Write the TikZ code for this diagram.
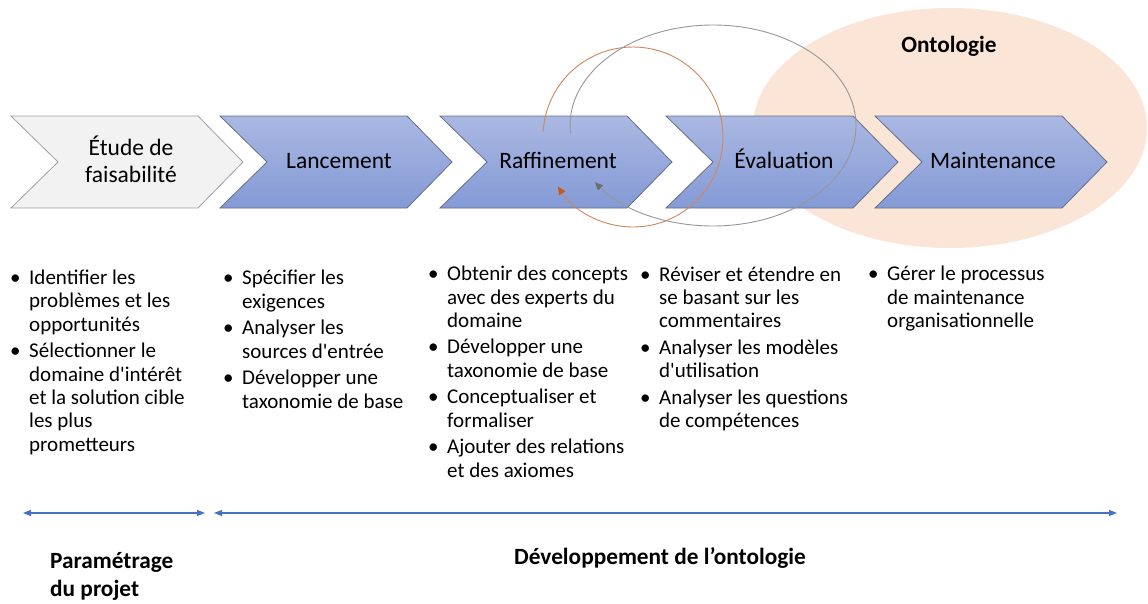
\documentclass[tikz,border=0pt]{standalone}
\usepackage{fontspec}
\setmainfont{Carlito}[Ligatures=TeXOff]
\usetikzlibrary{arrows.meta}

\definecolor{peche}{RGB}{251,229,214}
\definecolor{bleuhaut}{RGB}{170,184,226}
\definecolor{bleubas}{RGB}{132,154,214}
\definecolor{bordbleu}{RGB}{100,110,135}
\definecolor{grisclair}{RGB}{242,242,242}
\definecolor{bordgris}{RGB}{160,160,160}
\definecolor{orangecycle}{RGB}{206,134,92}
\definecolor{orangepointe}{RGB}{197,90,17}
\definecolor{griscycle}{RGB}{150,150,150}
\definecolor{grispointe}{RGB}{110,110,110}
\definecolor{bleuaxe}{RGB}{68,114,196}

\newcommand{\puce}{\makebox[19pt][l]{•}}
\newcommand{\suite}{\hspace*{19pt}}

\tikzset{
  chev/.style={draw=bordbleu, line width=0.8pt, top color=bleuhaut, bottom color=bleubas},
  chevgris/.style={draw=bordgris, line width=0.8pt, fill=grisclair},
  etape/.style={font=\fontsize{23.5}{27}\selectfont, align=center, anchor=base, inner sep=0pt},
  liste/.style={font=\fontsize{21}{23.3}\selectfont, align=left, anchor=base west, inner sep=0pt},
  titre/.style={font=\bfseries\fontsize{23.3}{28}\selectfont, inner sep=0pt},
  cycleorange/.style={draw=orangecycle, line width=0.9pt, -{Triangle[length=8pt,width=7pt,color=orangepointe]}},
  cyclegris/.style={draw=griscycle, line width=0.9pt, -{Triangle[length=8pt,width=7pt,color=grispointe]}},
  axe/.style={draw=bleuaxe, line width=1.1pt, {Triangle[length=8pt,width=6pt]}-{Triangle[length=8pt,width=6pt]}},
}

\begin{document}
\begin{tikzpicture}[x=1pt,y=-1pt]
  \useasboundingbox (0,0) rectangle (1148,603);

  % ontologie en fond
  \fill[peche] (950,128) ellipse [x radius=197, y radius=120];
  \node[titre, anchor=base] (ontologie) at (949,52) {Ontologie};

  % les cinq etapes
  \draw[chevgris] (11,116) -- ++(187,0) -- ++(45,46) -- ++(-45,46) -- ++(-187,0) -- ++(47,-46) -- cycle;
  \draw[chev] (220,116) -- ++(187,0) -- ++(45,46) -- ++(-45,46) -- ++(-187,0) -- ++(47,-46) -- cycle;
  \draw[chev] (440,116) -- ++(187,0) -- ++(45,46) -- ++(-45,46) -- ++(-187,0) -- ++(47,-46) -- cycle;
  \draw[chev] (666,116) -- ++(187,0) -- ++(45,46) -- ++(-45,46) -- ++(-187,0) -- ++(47,-46) -- cycle;
  \draw[chev] (875,116) -- ++(187,0) -- ++(45,46) -- ++(-45,46) -- ++(-187,0) -- ++(47,-46) -- cycle;

  % boucles d'iteration
  \coordinate (cycleR) at (633,137);
  \coordinate (cycleE) at (713,125.5);
  \draw[cycleorange] ([shift={(183.4:90 and 90)}]cycleR)
    arc[start angle=183.4, end angle=506.6, x radius=90, y radius=90];
  \draw[cyclegris] ([shift={(175.7:143 and 100.5)}]cycleE)
    arc[start angle=175.7, end angle=505.7, x radius=143, y radius=100.5];

  % (base = derniere ligne)
  \node[etape] (etude) at (131,182) {Étude de\\faisabilité};
  \node[etape] (lancement) at (339,168) {Lancement};
  \node[etape] (raffinement) at (558,168) {Raffinement};
  \node[etape] (evaluation) at (784,168) {Évaluation};
  \node[etape] (maintenance) at (993,168) {Maintenance};

  % activites
  \node[liste] (listeEtude) at (10,451) {\puce Identifier les\\ \suite problèmes et les\\ \suite opportunités\\[3.3pt]
    \puce Sélectionner le\\ \suite domaine d'intérêt\\ \suite et la solution cible\\ \suite les plus\\ \suite prometteurs};
  \node[liste] (listeLancement) at (223,408) {\puce Spécifier les\\ \suite exigences\\[3.3pt]
    \puce Analyser les\\ \suite sources d'entrée\\[3.3pt]
    \puce Développer une\\ \suite taxonomie de base};
  \node[liste] (listeRaffinement) at (428,477) {\puce Obtenir des concepts\\ \suite avec des experts du\\ \suite domaine\\[3.3pt]
    \puce Développer une\\ \suite taxonomie de base\\[3.3pt]
    \puce Conceptualiser et\\ \suite formaliser\\[3.3pt]
    \puce Ajouter des relations\\ \suite et des axiomes};
  \node[liste] (listeEvaluation) at (640,427.5) {\puce Réviser et étendre en\\ \suite se basant sur les\\ \suite commentaires\\[3.3pt]
    \puce Analyser les modèles\\ \suite d'utilisation\\[3.3pt]
    \puce Analyser les questions\\ \suite de compétences};
  \node[liste] (listeMaintenance) at (868,327.5) {\puce Gérer le processus\\ \suite de maintenance\\ \suite organisationnelle};

  % phases
  \coordinate (paramG) at (23,513);
  \coordinate (paramD) at (205,513);
  \coordinate (devG) at (214,513);
  \coordinate (devD) at (1117,513);
  \draw[axe] (paramG) -- (paramD);
  \draw[axe] (devG) -- (devD);
  \node[titre, anchor=base west, align=left] (parametrage) at (50,596) {Paramétrage\\du projet};
  \node[titre, anchor=base] (developpement) at (660,564) {Développement de l’ontologie};
\end{tikzpicture}
\end{document}
